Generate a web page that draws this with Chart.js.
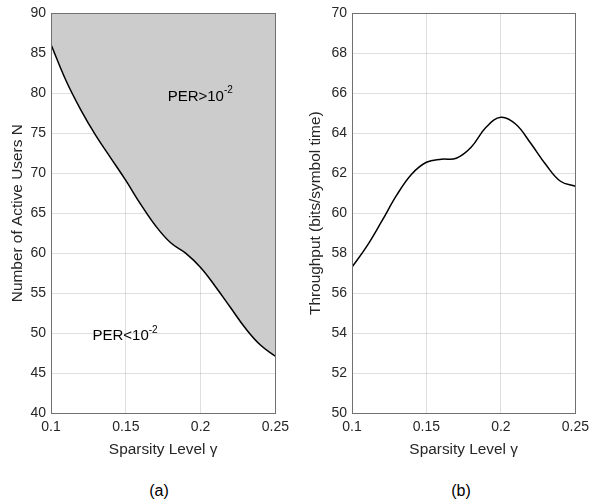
<!DOCTYPE html>
<html>
<head>
<meta charset="utf-8">
<script src="https://cdn.jsdelivr.net/npm/chart.js@4.4.1/dist/chart.umd.min.js"></script>
<style>
  body { margin: 0; background: #fff; width: 595px; height: 503px; position: relative; overflow: hidden; font-family: "Liberation Sans", Arial, sans-serif; }
  .box { position: absolute; top: 0; height: 470px; }
  #boxA { left: 0; width: 295px; }
  #boxB { left: 295px; width: 300px; }
  .cap { position: absolute; top: 482px; width: 100px; text-align: center; font-size: 16px; color: #000; }
</style>
</head>
<body>
<div class="box" id="boxA"><canvas id="chartA"></canvas></div>
<div class="box" id="boxB"><canvas id="chartB"></canvas></div>
<div class="cap" style="left:109px">(a)</div>
<div class="cap" style="left:411px">(b)</div>
<script>
// sparsity levels (x) shared by both panels
const gammaA = [0.10, 0.11, 0.12, 0.13, 0.14, 0.15, 0.16, 0.17, 0.18, 0.19, 0.20, 0.21, 0.22, 0.23, 0.24, 0.25];
const usersN = [86.1, 81.6, 77.9, 74.7, 71.9, 69.1, 66.1, 63.4, 61.3, 60.0, 58.2, 55.8, 53.2, 50.6, 48.5, 47.1];

const gammaB = [0.10, 0.11, 0.12, 0.13, 0.14, 0.15, 0.16, 0.17, 0.18, 0.19, 0.20, 0.21, 0.22, 0.23, 0.24, 0.25];
const throughput = [57.3, 58.35, 59.6, 60.9, 61.95, 62.55, 62.7, 62.75, 63.3, 64.3, 64.8, 64.45, 63.5, 62.45, 61.6, 61.35];

const xTicks = [0.1, 0.15, 0.2, 0.25];
const yTicksA = [40, 45, 50, 55, 60, 65, 70, 75, 80, 85, 90];
const yTicksB = [50, 52, 54, 56, 58, 60, 62, 64, 66, 68, 70];

// region labels of panel (a), in data units
const regionLabels = [
    { x: 0.178, y: 79.6, text: "PER>10", sup: "-2" },
    { x: 0.1277, y: 49.6, text: "PER<10", sup: "-2" }
];

const textColor = "#262626";
const fontFamily = "'Liberation Sans', Arial, sans-serif";

const boxPlugin = {
    id: "box",
    afterDraw(chart) {
        const a = chart.chartArea;
        const ctx = chart.ctx;
        ctx.save();
        ctx.strokeStyle = "#707070";
        ctx.lineWidth = 1;
        ctx.strokeRect(Math.round(a.left) + 0.5, Math.round(a.top) + 0.5,
            Math.round(a.right) - Math.round(a.left), Math.round(a.bottom) - Math.round(a.top));
        ctx.restore();
    }
};

const labelPlugin = {
    id: "regionLabels",
    afterDraw(chart) {
        if (chart.canvas.id !== "chartA") return;
        const ctx = chart.ctx;
        const xs = chart.scales.x, ys = chart.scales.y;
        ctx.save();
        ctx.fillStyle = "#000";
        ctx.textBaseline = "middle";
        ctx.textAlign = "left";
        regionLabels.forEach(l => {
            const px = xs.getPixelForValue(l.x);
            const py = ys.getPixelForValue(l.y);
            ctx.font = "15px " + fontFamily;
            ctx.fillText(l.text, px, py);
            const w = ctx.measureText(l.text).width;
            ctx.font = "10px " + fontFamily;
            ctx.fillText(l.sup, px + w, py - 6);
        });
        ctx.restore();
    }
};

function makeOptions(yMin, yMax, yTicks, yTitle, yWidth, titlePad, padRight) {
    return {
        responsive: true,
        maintainAspectRatio: false,
        animation: false,
        devicePixelRatio: 1,
        layout: { padding: { top: 12, right: padRight, bottom: 7, left: 0 } },
        plugins: { legend: { display: false }, tooltip: { enabled: false } },
        scales: {
            x: {
                type: "linear",
                min: 0.1,
                max: 0.25,
                z: 1,
                afterBuildTicks: s => { s.ticks = xTicks.map(v => ({ value: v })); },
                afterFit: s => { s.height = 50; },
                ticks: {
                    color: textColor,
                    font: { size: 14, family: fontFamily },
                    padding: 6,
                    maxRotation: 0,
                    callback: v => String(v)
                },
                grid: { color: "rgba(38,38,38,0.15)", drawTicks: false },
                border: { display: false },
                title: {
                    display: true,
                    text: "Sparsity Level \u03b3",
                    color: textColor,
                    font: { size: 15.4, family: fontFamily },
                    padding: { top: 4, bottom: 4 }
                }
            },
            y: {
                min: yMin,
                max: yMax,
                z: 1,
                afterBuildTicks: s => { s.ticks = yTicks.map(v => ({ value: v })); },
                afterFit: s => { s.width = yWidth; },
                ticks: {
                    color: textColor,
                    font: { size: 14, family: fontFamily },
                    padding: 5
                },
                grid: { color: "rgba(38,38,38,0.15)", drawTicks: false },
                border: { display: false },
                title: {
                    display: true,
                    text: yTitle,
                    color: textColor,
                    font: { size: 15.4, family: fontFamily },
                    padding: { top: titlePad, bottom: 4 }
                }
            }
        }
    };
}

new Chart(document.getElementById("chartA"), {
    type: "line",
    data: {
        datasets: [{
            data: gammaA.map((g, i) => ({ x: g, y: usersN[i] })),
            borderColor: "#000",
            borderWidth: 1.5,
            backgroundColor: "#cccccc",
            fill: "end",
            pointRadius: 0,
            tension: 0.4
        }]
    },
    options: makeOptions(40, 90, yTicksA, "Number of Active Users N", 51, 9, 18),
    plugins: [boxPlugin, labelPlugin]
});

new Chart(document.getElementById("chartB"), {
    type: "line",
    data: {
        datasets: [{
            data: gammaB.map((g, i) => ({ x: g, y: throughput[i] })),
            borderColor: "#000",
            borderWidth: 1.5,
            fill: false,
            pointRadius: 0,
            tension: 0.4
        }]
    },
    options: makeOptions(50, 70, yTicksB, "Throughput (bits/symbol time)", 57, 12, 16),
    plugins: [boxPlugin]
});
</script>
</body>
</html>
